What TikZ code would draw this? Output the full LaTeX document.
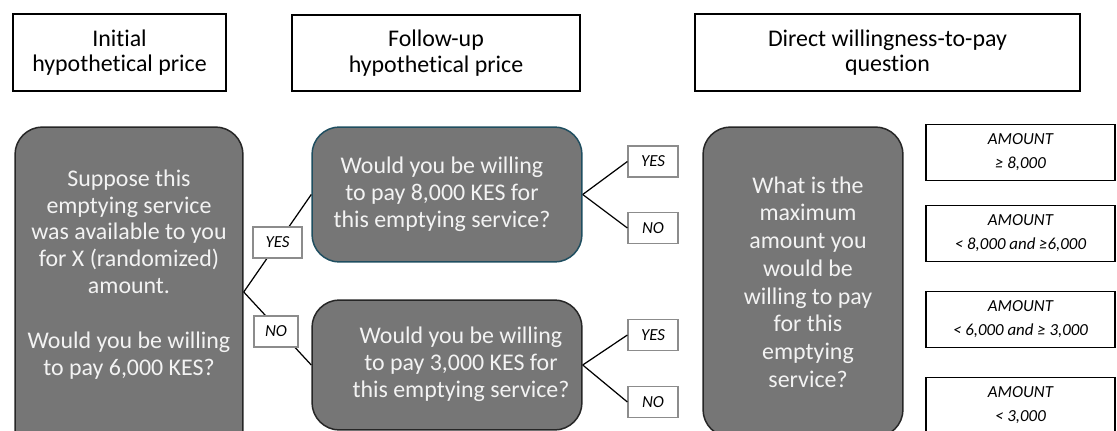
\documentclass[tikz,border=0pt]{standalone}
\usepackage{fontspec}
\setmainfont{Carlito}[Ligatures=NoCommon]
\definecolor{boxgray}{RGB}{118,118,118}
\definecolor{boxtext}{RGB}{243,243,243}
\definecolor{tealedge}{RGB}{31,78,96}
\definecolor{tagedge}{RGB}{140,140,140}

\tikzset{
    header/.style={draw, line width=0.75pt, align=center, font=\fontsize{13.6}{14.5}\selectfont},
    question/.style={draw=black!85, fill=boxgray, line width=0.85pt, rounded corners=0.55cm},
    qtext/.style={text=boxtext, align=center, font=\fontsize{13.6}{15.3}\selectfont},
    tag/.style={draw=tagedge, fill=white, line width=0.7pt, inner sep=0pt,
        minimum height=0.62cm, font=\fontsize{9.6}{10}\selectfont\itshape},
    amount/.style={draw, line width=0.75pt, align=center, minimum width=3.78cm,
        minimum height=1.12cm, font=\fontsize{9.6}{13.6}\selectfont\itshape},
    branch/.style={line width=0.7pt}
}

\begin{document}
\begin{tikzpicture}[x=0.02cm, y=-0.02cm]
    \useasboundingbox (0,0) rectangle (1117,430);
    \clip (0,0) rectangle (1117,430);

    \node[header, minimum width=4.26cm, minimum height=1.54cm] (hdrA) at (119.5,52.5) {Initial\\hypothetical price};
    \node[header, minimum width=5.76cm, minimum height=1.52cm] (hdrB) at (436,53) {Follow-up\\hypothetical price};
    \node[header, minimum width=7.7cm, minimum height=1.54cm] (hdrC) at (887.5,52.5) {Direct willingness-to-pay\\question};

    \node[question, minimum width=4.56cm, minimum height=6.6cm] (init) at (129,292) {};
    \node[question, draw=tealedge, minimum width=5.4cm, minimum height=2.7cm] (q8) at (447,194.5) {};
    \node[question, minimum width=5.4cm, minimum height=2.6cm] (q3) at (447,365) {};
    \node[question, minimum width=4cm, minimum height=6.2cm] (open) at (803,282) {};

    \node[qtext] (initTxt) at (129,274.5) {Suppose this\\emptying service\\was available to you\\for X (randomized)\\amount.\\[16pt]Would you be willing\\to pay 6,000 KES?};
    \node[qtext] (q8Txt) at (442,194.5) {Would you be willing\\to pay 8,000 KES for\\this emptying service?};
    \node[qtext] (q3Txt) at (461,364.5) {Would you be willing\\to pay 3,000 KES for\\this emptying service?};
    \node[qtext, font=\fontsize{13.6}{15.8}\selectfont] (openTxt) at (808,282) {What is the\\maximum\\amount you\\would be\\willing to pay\\for this\\emptying\\service?};

    \node[tag, minimum width=1cm] (y8) at (653,161.5) {YES};
    \node[tag, minimum width=1cm] (n8) at (653,228) {NO};
    \node[tag, minimum width=1cm] (y3) at (653,335) {YES};
    \node[tag, minimum width=1cm] (n3) at (653,402) {NO};

    \draw[branch] (init.east) -- (q8.west);
    \draw[branch] (init.east) -- (q3.west);
    \draw[branch] (q8.east) -- (y8.west);
    \draw[branch] (q8.east) -- (n8.west);
    \draw[branch] (q3.east) -- (y3.west);
    \draw[branch] (q3.east) -- (n3.west);

    \node[tag, minimum width=0.98cm] (yA) at (277.5,242.5) {YES};
    \node[tag, minimum width=0.88cm] (nA) at (276,331.5) {NO};

    \node[amount] (amt1) at (1020.5,152.5) {AMOUNT\\≥ 8,000};
    \node[amount] (amt2) at (1020.5,233.5) {AMOUNT\\< 8,000 and ≥6,000};
    \node[amount] (amt3) at (1020.5,319.5) {AMOUNT\\< 6,000 and ≥ 3,000};
    \node[amount] (amt4) at (1020.5,405.5) {AMOUNT\\< 3,000};
\end{tikzpicture}
\end{document}
